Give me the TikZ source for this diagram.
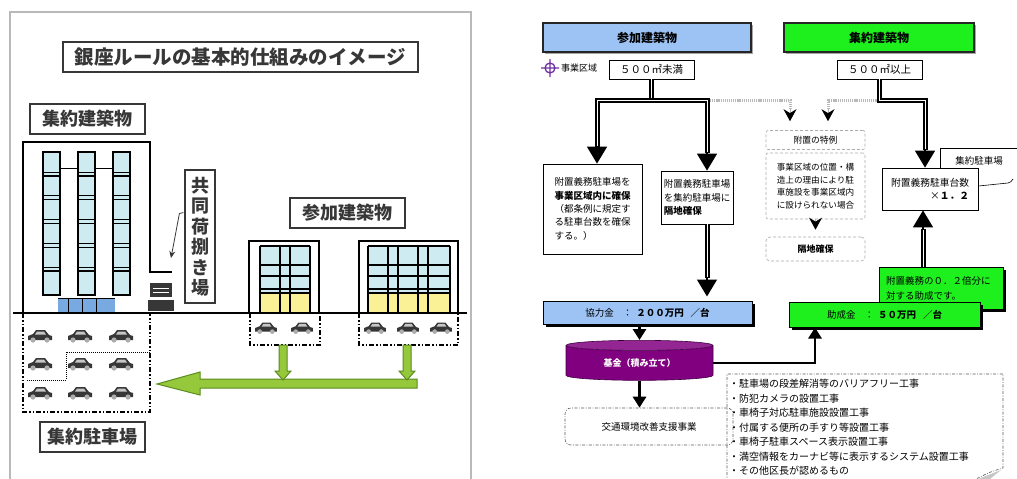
\documentclass[tikz,border=0pt]{standalone}
\usepackage{fontspec}
\setmainfont{Noto Sans CJK JP}
\usetikzlibrary{arrows.meta,shapes.geometric,shadows,calc}

\definecolor{skyblue}{RGB}{157,195,245}
\definecolor{lime}{RGB}{30,240,30}
\definecolor{fundpurple}{RGB}{128,0,128}
\definecolor{areapurple}{RGB}{110,50,160}
\definecolor{glass}{RGB}{205,235,240}
\definecolor{glassyellow}{RGB}{250,240,150}
\definecolor{entrance}{RGB}{120,170,225}
\definecolor{arrowgreen}{RGB}{150,200,60}
\definecolor{arrowedge}{RGB}{90,140,30}
\definecolor{inkgray}{RGB}{55,55,55}

\newcommand{\jp}[2]{\fontsize{#1}{#2}\selectfont}

\tikzset{
  plate/.style={draw=inkgray, line width=1.2pt, fill=white, inner sep=0pt, text=inkgray, font=\jp{18}{20.5}\bfseries},
  box/.style={draw, line width=0.8pt, fill=white, inner sep=0pt},
  hdr/.style={draw=black!85, line width=1.5pt, inner sep=0pt, minimum height=29pt, font=\jp{12}{12}\bfseries,
    drop shadow={shadow xshift=2pt, shadow yshift=-2pt, fill=gray!70, opacity=1}},
  bar/.style={draw, line width=1pt, inner sep=0pt,
    drop shadow={shadow xshift=3pt, shadow yshift=-3pt, fill=black, opacity=1}},
  dashbox/.style={draw=gray!65, densely dashed, line width=0.6pt, rounded corners=2pt, inner sep=0pt, fill=white},
  dashdot/.style={draw=gray!70!black, line width=0.6pt, dash pattern=on 3pt off 1.5pt on 0.8pt off 1.5pt},
  dbl/.style={draw, line width=2pt, double=white, double distance=1pt},
  bighead/.style={line width=1.5pt, -{Triangle[width=20pt,length=17pt]}},
  smallhead/.style={gray!60, line width=1pt, -{Stealth[width=13pt,length=12pt,color=black]}},
  link/.style={line width=2.8pt, -{Triangle[width=13pt,length=11pt]}},
  chain/.style={draw=gray!55, line width=3pt, dash pattern=on 1.2pt off 0.9pt},
  lot/.style={line width=1.6pt, dash pattern=on 5pt off 2pt on 1.5pt off 2pt on 1.5pt off 2pt},
  greenarrow/.style={fill=arrowgreen, draw=arrowedge, line width=1pt},
  car/.pic={
    \fill[inkgray] (-12,4) -- (-12,0) -- (-7,-2) -- (-4,-6) -- (5,-6) -- (9,-1) -- (12,0) -- (12,4) -- cycle;
    \fill[gray!45] (-3,-4.5) -- (4,-4.5) -- (6,-1.5) -- (-5,-1.5) -- cycle;
    \fill[gray!65] (-7,4) circle (2.6) (7,4) circle (2.6);
  }
}

\begin{document}
\begin{tikzpicture}[x=1pt, y=-1pt]
    \useasboundingbox (0,0) rectangle (1017,479);

    % ---------- scheme picture ----------
    \draw[gray!55, line width=1.3pt] (10,12) rectangle (471,485);
    \node[plate, minimum width=355pt, minimum height=30pt, font=\jp{19.5}{19.5}\bfseries] (title) at (240.5,57) {銀座ルールの基本的仕組みのイメージ};
    \node[plate, minimum width=115pt, minimum height=30pt] (bigbldg) at (87.5,119) {集約建築物};
    \node[plate, minimum width=115pt, minimum height=30pt] (smallbldg) at (347.5,213) {参加建築物};
    \node[plate, minimum width=105pt, minimum height=30pt] (biglot) at (92.5,437) {集約駐車場};
    \node[plate, minimum width=30pt, minimum height=133pt, align=center] (loading) at (200,236.5) {共\\同\\荷\\捌\\き\\場};

    % tall building
    \draw[line width=2.2pt] (23,313) -- (23,142) -- (150,142) -- (150,272) -- (172,272);
    \foreach \x in {43,78,113} {
        \fill[glass] (\x,152) rectangle ++(17,143);
        \foreach \i in {1,...,5} {
            \draw[line width=1.4pt] (\x,{152+\i*23.8}) -- ++(17,0);
            \draw[line width=0.6pt] (\x,{148+\i*23.8}) -- ++(17,0);
        }
        \draw[line width=1.4pt] (\x,152) rectangle ++(17,143);
    }
    \draw[line width=0.8pt] (60,168) -- (78,168) (95,168) -- (113,168);
    \fill[entrance] (58,298) rectangle (115,313);
    \draw[line width=1pt] (58,298) -- (115,298) (68,298) -- (68,313) (82,298) -- (82,313) (96,298) -- (96,313);

    % truck at the loading bay
    \fill[inkgray] (150,283) rectangle (172,297);
    \fill[inkgray] (148,300) rectangle (174,311);
    \draw[white, line width=0.8pt] (153,288) -- (169,288) (153,292) -- (169,292);
    \coordinate (bay) at (171,258);
    \draw[inkgray, line width=0.8pt, -{Stealth[width=6pt,length=7pt]}] ($(loading.west)+(-1,-24)$) -- ++(-4,1) -- (bay);

    % small buildings
    \draw[line width=2pt] (249,313) -- (249,241) -- (319,241) -- (319,313);
    \fill[glass] (260,246) rectangle (310,292);
    \fill[glassyellow] (260,293) rectangle (310,312);
    \foreach \x in {260,280,290,310} \draw[line width=1.2pt] (\x,246) -- (\x,313);
    \foreach \y in {246,265,276,289,293} \draw[line width=1.2pt] (260,\y) -- (310,\y);

    \draw[line width=2pt] (359,313) -- (359,241) -- (458,241) -- (458,313);
    \fill[glass] (368,246) rectangle (450,292);
    \fill[glassyellow] (368,293) rectangle (450,312);
    \foreach \x in {368,388,398,418,428,450} \draw[line width=1.2pt] (\x,246) -- (\x,313);
    \foreach \y in {246,265,276,289,293} \draw[line width=1.2pt] (368,\y) -- (450,\y);

    % ground
    \draw[line width=2pt] (13,313) -- (467,313);

    % parking lots
    \draw[lot] (23,313) -- (23,412) -- (150,412) -- (150,313);
    \draw[densely dotted, line width=1pt] (150,352) -- (66,352) -- (66,380) -- (26,380);
    \draw[lot] (250,313) -- (250,345) -- (320,345) -- (320,313);
    \draw[lot] (359,313) -- (359,345) -- (458,345) -- (458,313);
    \foreach \x in {40,80,121}
        \foreach \y in {336,364,393}
            \pic at (\x,\y) {car};
    \foreach \x in {266,302} \pic[scale=0.9] at (\x,328) {car};
    \foreach \x in {375,408,441} \pic[scale=0.9] at (\x,328) {car};

    % green arrows
    \draw[greenarrow] (157,384) -- (200,372) -- (200,379) -- (417,379) -- (417,388) -- (200,388) -- (200,395) -- cycle;
    \foreach \x in {283,407}
        \draw[greenarrow] (\x-4,345) -- (\x-4,371) -- (\x-8,371) -- (\x,380) -- (\x+8,371) -- (\x+4,371) -- (\x+4,345) -- cycle;

    % ---------- flow chart ----------
    % Headers
    \node[hdr, fill=skyblue, minimum width=208pt] (hdrA) at (647,37.5) {参加建築物};
    \node[hdr, fill=lime, minimum width=190pt] (hdrB) at (879,37.5) {集約建築物};

    % site area
    \draw[areapurple, line width=1.3pt] (550,68) circle (5) (541,68) -- (559,68) (550,59) -- (550,77);
    \node[anchor=west, inner sep=0pt, font=\jp{9}{9}] (area) at (561,68) {事業区域};
    \node[box, minimum width=85pt, minimum height=19pt, font=\jp{10.5}{10.5}] (sizeA) at (651.5,69.5) {５００㎡未満};
    \node[box, minimum width=85pt, minimum height=19pt, font=\jp{10.5}{10.5}] (sizeB) at (879.5,69.5) {５００㎡以上};

    % Boxes
    \node[box, minimum width=99pt, minimum height=90pt, align=left, font=\jp{9.5}{13.3}] (onsite) at (592.5,209)
        {附置義務駐車場を\\\textbf{事業区域内に確保}\\（都条例に規定す\\る駐車台数を確保\\する。）};
    \node[box, minimum width=72pt, minimum height=53pt, align=left, font=\jp{9.5}{13.3}] (remote) at (697,197.5)
        {附置義務駐車場\\を集約駐車場に\\\textbf{隔地確保}};
    \node[dashbox, minimum width=99pt, minimum height=19pt, font=\jp{8.8}{8.8}] (special) at (815.5,140) {附置の特例};
    \node[dashbox, minimum width=99pt, minimum height=66pt, align=left, font=\jp{8.6}{12.5}] (reason) at (815.5,186)
        {事業区域の位置・構\\造上の理由により駐\\車施設を事業区域内\\に設けられない場合};
    \node[dashbox, rounded corners=4pt, minimum width=99pt, minimum height=24pt, font=\jp{9}{9}\bfseries] (kakuchi) at (815.5,249) {隔地確保};
    \node[box, minimum width=96pt, minimum height=42pt, align=right, font=\jp{9.75}{13}] (futai) at (930,189)
        {附置義務駐車台数\\×\textbf{１．２}};
    \node[font=\jp{9.5}{9.5}] (lotnote) at (979,161) {集約駐車場};

    \node[bar, fill=lime, minimum width=124pt, minimum height=42pt, text width=110pt, align=left, font=\jp{9.5}{15}] (note) at (941,288)
        {附置義務の０．２倍分に\\対する助成です。};
    \node[bar, fill=skyblue, minimum width=209pt, minimum height=23pt, font=\jp{9.5}{9.5}] (kyoryoku) at (647.5,312.5)
        {協力金\hspace{9pt}：\hspace{4pt}\textbf{２００万円\hspace{7pt}／台}};
    \node[bar, fill=lime, minimum width=191pt, minimum height=25pt, font=\jp{9.5}{9.5}] (josei) at (884.5,314.5)
        {助成金\hspace{9pt}：\hspace{4pt}\textbf{５０万円\hspace{7pt}／台}};

    \node[cylinder, shape border rotate=90, aspect=0.14, cylinder uses custom fill, cylinder body fill=fundpurple,
        cylinder end fill=fundpurple!85!white, draw=fundpurple!50!black, line width=0.6pt,
        minimum width=147pt, minimum height=40pt, inner sep=0pt, text=white, font=\jp{9}{9}\bfseries] (fund) at (639.5,363) {基金（積み立て）};
    \node[dashdot, rounded corners=6pt, minimum width=168pt, minimum height=37pt, inner sep=0pt, font=\jp{9.5}{9.5}] (support) at (649,426.5) {交通環境改善支援事業};

    \node[anchor=north west, align=left, inner sep=0pt, font=\jp{10}{14.5}] (works) at (729,379)
        {・駐車場の段差解消等のバリアフリー工事\\・防犯カメラの設置工事\\・車椅子対応駐車施設設置工事\\・付属する便所の手すり等設置工事\\・車椅子駐車スペース表示設置工事\\・満空情報をカーナビ等に表示するシステム設置工事\\・その他区長が認めるもの};
    \draw[dashdot] (727,482) -- (727,374) -- (1003,374) -- (1003,468) .. controls (990,472) .. (976,479);
    \fill[gray!45] (978,479) -- (1001,470) -- (990,479) -- cycle;

    % 500 m2 未満 branch
    \coordinate (forkA) at (sizeA.south |- 0,100);
    \coordinate (legA1) at (597,100);
    \coordinate (legA2) at (707,100);
    \draw[dbl] (sizeA.south) -- (forkA);
    \draw[dbl] (legA1 |- 0,147) -- (legA1) -- (legA2) -- (legA2 |- 0,153);
    \draw[bighead] (legA1 |- 0,146) -- (legA1 |- onsite.north);
    \draw[bighead] (legA2 |- 0,152) -- (legA2 |- remote.north);
    \draw[dbl] (legA2 |- remote.south) -- (legA2 |- 0,278);
    \draw[bighead] (legA2 |- 0,277) -- ($(legA2 |- kyoryoku.north)+(0,-4)$);

    % 500 m2 以上 branch
    \coordinate (forkB) at (sizeB.south |- 0,100);
    \coordinate (legB) at (925,100);
    \draw[dbl] (sizeB.south) -- (forkB) -- (legB) -- (legB |- 0,150);
    \draw[bighead] (legB |- 0,149) -- (legB |- futai.north);

    % exception paths
    \coordinate (dropA) at (790,100);
    \coordinate (dropB) at (828,100);
    \draw[chain] ($(legA2)+(3,0)$) -- (dropA) -- (dropA |- 0,110);
    \draw[chain] ($(forkB)+(-3,0)$) -- (dropB) -- (dropB |- 0,110);
    \draw[smallhead] (dropA |- 0,109) -- ($(dropA |- special.north)+(0,-9)$);
    \draw[smallhead] (dropB |- 0,109) -- ($(dropB |- special.north)+(0,-9)$);
    \draw[smallhead] (reason.south) -- ($(kakuchi.north)+(0,-7)$);

    % subsidy line up to the parking count
    \coordinate (legC) at (923,0);
    \draw[dbl] (legC |- note.north) -- (legC |- 0,229);
    \draw[bighead] (legC |- 0,230) -- (legC |- futai.south);

    % callout
    \coordinate (calloutL) at (940,148);
    \draw[line width=0.6pt] (calloutL |- futai.north) -- (calloutL) -- (1017,148);
    \draw[line width=0.6pt] (futai.east |- 0,186) -- (1008,183) .. controls (1011,182) .. (1013,179);

    % fund links
    \coordinate (legJ) at (815,0);
    \draw[link] (fund.north |- kyoryoku.south) -- (fund.north);
    \draw[link] (fund.south) -- (fund.south |- support.north);
    \draw[link] (fund.east) -| (legJ |- josei.south);

\end{tikzpicture}
\end{document}
